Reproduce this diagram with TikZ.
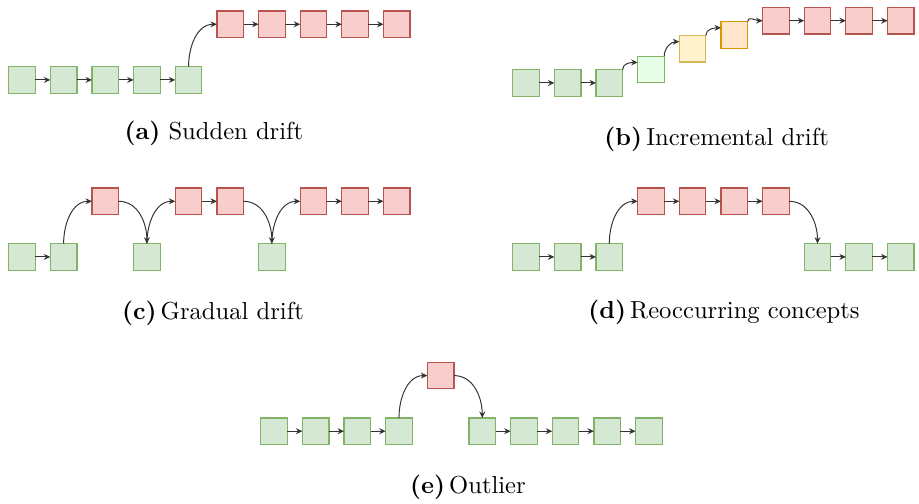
\documentclass[tikz,border=0pt]{standalone}
\usepackage{tikz}
\usetikzlibrary{positioning}
\usetikzlibrary{arrows.meta}

% 方块颜色
\definecolor{gfill}{HTML}{D5E8D4}
\definecolor{gline}{HTML}{82B366}
\definecolor{lgfill}{HTML}{E6FFE6}
\definecolor{rfill}{HTML}{F8CECC}
\definecolor{rline}{HTML}{B85450}
\definecolor{yfill}{HTML}{FFF2CC}
\definecolor{yline}{HTML}{D6B656}
\definecolor{ofill}{HTML}{FFE6CC}
\definecolor{oline}{HTML}{D79B00}

\begin{document}
\begin{tikzpicture}[node distance=0.215cm,
	cell/.style={draw, line width=0.5pt, minimum size=0.38cm, inner sep=0pt, outer sep=0pt},
	gbox/.style={cell, fill=gfill, draw=gline},
	lgbox/.style={cell, fill=lgfill, draw=gline},
	rbox/.style={cell, fill=rfill, draw=rline},
	ybox/.style={cell, fill=yfill, draw=yline},
	obox/.style={cell, fill=ofill, draw=oline},
	flow/.style={-{Stealth[length=2.6pt, width=2.4pt]}, black!80, line width=0.4pt}]
	\useasboundingbox (0,0) rectangle (13.13,7.20);
	
	% (a) 突变
	\begin{scope}[shift={(0.314,6.058)}]
		\node[gbox] (a1) at (0,0) {};
		\foreach \i [count=\j from 2] in {1,...,4} \node[gbox, right=of a\i] (a\j) {};
		\node[rbox, above right=0.415cm and 0.215cm of a5] (a6) {};
		\foreach \i [count=\j from 7] in {6,...,9} \node[rbox, right=of a\i] (a\j) {};
		
		\foreach \i [count=\j from 2] in {1,...,4} \draw[flow] (a\i) -- (a\j);
		\draw[flow] (a5.north) to[out=90, in=180] (a6.west);
		\foreach \i [count=\j from 7] in {6,...,9} \draw[flow] (a\i) -- (a\j);
	\end{scope}
	
	% (b) 渐进: 逐级抬高
	\begin{scope}[shift={(7.515,6.015)}]
		\node[gbox] (b1) at (0,0) {};
		\foreach \i [count=\j from 2] in {1,2} \node[gbox, right=of b\i] (b\j) {};
		\node[lgbox, right=of b3, yshift=0.193cm] (b4) {};
		\node[ybox, right=of b4, yshift=0.296cm] (b5) {};
		\node[obox, right=of b5, yshift=0.198cm] (b6) {};
		\node[rbox, right=of b6, yshift=0.202cm] (b7) {};
		\foreach \i [count=\j from 8] in {7,...,9} \node[rbox, right=of b\i] (b\j) {};
		
		\foreach \i [count=\j from 2] in {1,2} \draw[flow] (b\i) -- (b\j);
		\foreach \i [count=\j from 4] in {3,...,5}
			\draw[flow] (b\i.north east) to[out=90, in=180] ([yshift=0.1cm]b\j.west);
		\draw[flow] (b6.north east) to[out=90, in=180] (b7.west);
		\foreach \i [count=\j from 8] in {7,...,9} \draw[flow] (b\i) -- (b\j);
	\end{scope}
	
	% (c) 渐变: 新旧交替
	\begin{scope}[shift={(0.314,3.529)}]
		\node[gbox] (c1) at (0,0) {};
		\node[gbox, right=of c1] (c2) {};
		\node[rbox, above right=0.415cm and 0.215cm of c2] (c3) {};
		\node[gbox, below right=0.415cm and 0.215cm of c3] (c4) {};
		\node[rbox, above right=0.415cm and 0.215cm of c4] (c5) {};
		\node[rbox, right=of c5] (c6) {};
		\node[gbox, below right=0.415cm and 0.215cm of c6] (c7) {};
		\node[rbox, above right=0.415cm and 0.215cm of c7] (c8) {};
		\node[rbox, right=of c8] (c9) {};
		\node[rbox, right=of c9] (c10) {};
		
		\draw[flow] (c1) -- (c2);
		\draw[flow] (c2.north) to[out=90, in=180] (c3.west);
		\draw[flow] (c3.east) to[out=0, in=90] (c4.north);
		\draw[flow] (c4.north) to[out=90, in=180] (c5.west);
		\draw[flow] (c5) -- (c6);
		\draw[flow] (c6.east) to[out=0, in=90] (c7.north);
		\draw[flow] (c7.north) to[out=90, in=180] (c8.west);
		\draw[flow] (c8) -- (c9);
		\draw[flow] (c9) -- (c10);
	\end{scope}
	
	% (d) 重现
	\begin{scope}[shift={(7.515,3.529)}]
		\node[gbox] (d1) at (0,0) {};
		\foreach \i [count=\j from 2] in {1,2} \node[gbox, right=of d\i] (d\j) {};
		\node[rbox, above right=0.415cm and 0.215cm of d3] (d4) {};
		\foreach \i [count=\j from 5] in {4,...,6} \node[rbox, right=of d\i] (d\j) {};
		\node[gbox, below right=0.415cm and 0.215cm of d7] (d8) {};
		\foreach \i [count=\j from 9] in {8,9} \node[gbox, right=of d\i] (d\j) {};
		
		\foreach \i [count=\j from 2] in {1,2} \draw[flow] (d\i) -- (d\j);
		\draw[flow] (d3.north) to[out=90, in=180] (d4.west);
		\foreach \i [count=\j from 5] in {4,...,6} \draw[flow] (d\i) -- (d\j);
		\draw[flow] (d7.east) to[out=0, in=90] (d8.north);
		\foreach \i [count=\j from 9] in {8,9} \draw[flow] (d\i) -- (d\j);
	\end{scope}
	
	% (e) 离群点
	\begin{scope}[shift={(3.915,1.039)}]
		\node[gbox] (e1) at (0,0) {};
		\foreach \i [count=\j from 2] in {1,...,3} \node[gbox, right=of e\i] (e\j) {};
		\node[rbox, above right=0.415cm and 0.215cm of e4] (e5) {};
		\node[gbox, below right=0.415cm and 0.215cm of e5] (e6) {};
		\foreach \i [count=\j from 7] in {6,...,9} \node[gbox, right=of e\i] (e\j) {};
		
		\foreach \i [count=\j from 2] in {1,...,3} \draw[flow] (e\i) -- (e\j);
		\draw[flow] (e4.north) to[out=90, in=180] (e5.west);
		\draw[flow] (e5.east) to[out=0, in=90] (e6.north);
		\foreach \i [count=\j from 7] in {6,...,9} \draw[flow] (e\i) -- (e\j);
	\end{scope}
	
	% 子图标题
	\node (cap-a) at (3.057,5.300) {\textbf{(a)} Sudden drift};
	\node (cap-b) at (10.239,5.215) {\textbf{(b)}\,Incremental drift};
	\node (cap-c) at (3.043,2.729) {\textbf{(c)}\,Gradual drift};
	\node (cap-d) at (10.344,2.736) {\textbf{(d)}\,Reoccurring concepts};
	\node (cap-e) at (6.686,0.243) {\textbf{(e)}\,Outlier};
	
\end{tikzpicture}
\end{document}
